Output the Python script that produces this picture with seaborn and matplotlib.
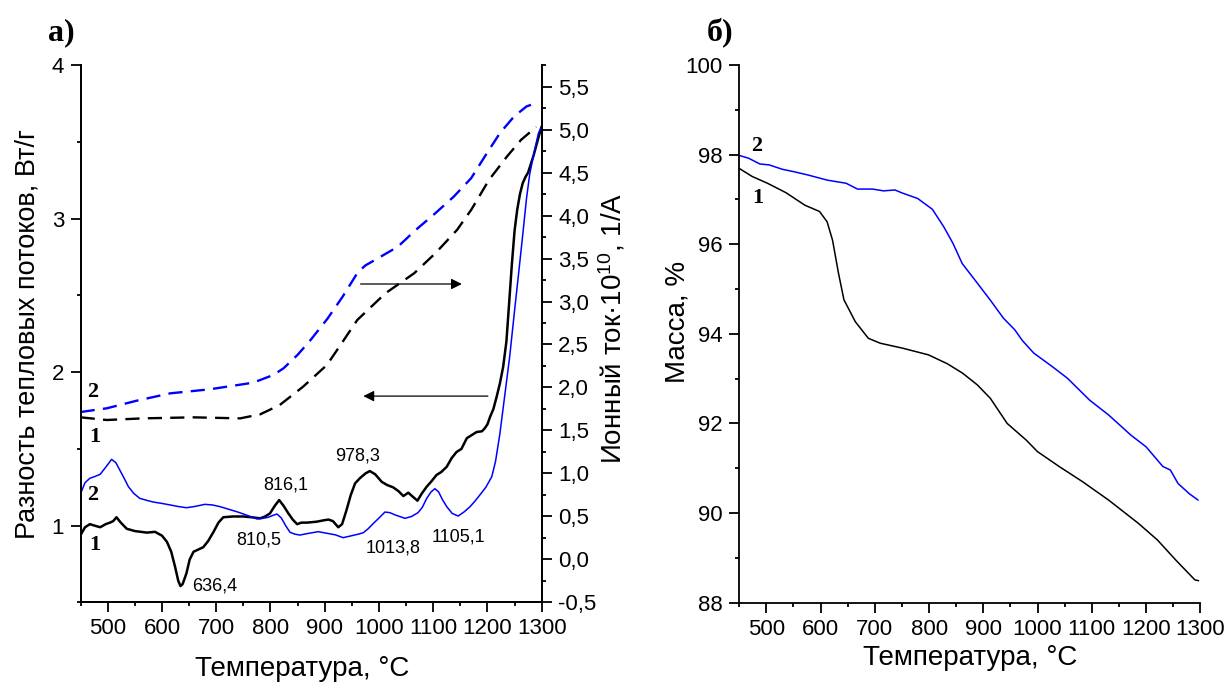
import numpy as np
import pandas as pd
import seaborn as sns
import matplotlib.pyplot as plt
from matplotlib.ticker import MultipleLocator, FuncFormatter

# а) DSC curves, W/g (left axis)
dsc_t1 = [450, 458, 467, 476, 486, 496, 504, 510, 516, 524, 535, 550, 572, 587, 600, 609, 617, 624,
          630, 634, 638, 645, 651, 658, 667, 676, 685, 695, 704, 713, 730, 750, 765, 781, 790, 799,
          808, 816, 824, 833, 841, 849, 857, 867, 885, 898, 907, 915, 925, 932, 940, 948, 956, 965,
          975, 983, 993, 1005, 1015, 1026, 1036, 1045, 1054, 1062, 1071, 1079, 1088, 1097, 1106,
          1115, 1125, 1134, 1143, 1152, 1162, 1171, 1180, 1190, 1195, 1200, 1205, 1211, 1217, 1223,
          1229, 1235, 1240, 1245, 1250, 1255, 1260, 1265, 1270, 1275, 1285, 1295, 1300]
dsc_1 = [0.94, 0.99, 1.01, 1.00, 0.99, 1.01, 1.02, 1.03, 1.055, 1.02, 0.98, 0.965, 0.955, 0.96, 0.935,
         0.895, 0.83, 0.733, 0.64, 0.607, 0.62, 0.69, 0.78, 0.83, 0.845, 0.86, 0.90, 0.96, 1.02, 1.055,
         1.06, 1.06, 1.055, 1.048, 1.06, 1.08, 1.13, 1.167, 1.13, 1.08, 1.04, 1.01, 1.02, 1.02, 1.026,
         1.035, 1.04, 1.03, 0.99, 1.01, 1.10, 1.20, 1.276, 1.31, 1.34, 1.356, 1.335, 1.286, 1.265,
         1.25, 1.225, 1.193, 1.215, 1.19, 1.163, 1.21, 1.254, 1.29, 1.33, 1.35, 1.384, 1.44, 1.48,
         1.50, 1.57, 1.59, 1.61, 1.615, 1.634, 1.66, 1.71, 1.76, 1.84, 1.927, 2.035, 2.2, 2.45, 2.7,
         2.92, 3.06, 3.16, 3.23, 3.27, 3.30, 3.41, 3.54, 3.6]

dsc_t2 = [450, 458, 467, 476, 486, 496, 507, 515, 522, 530, 538, 548, 559, 572, 584, 600, 615, 630,
          645, 660, 679, 693, 707, 722, 738, 755, 775, 786, 796, 805, 812, 820, 828, 836, 845, 854,
          870, 888, 905, 920, 934, 950, 962, 971, 980, 990, 1000, 1011, 1020, 1030, 1048, 1060, 1072,
          1080, 1088, 1096, 1103, 1110, 1117, 1125, 1135, 1146, 1157, 1168, 1177, 1186, 1197, 1208,
          1215, 1223, 1232, 1241, 1250, 1258, 1266, 1272, 1278, 1286, 1294, 1300]
dsc_2 = [1.211, 1.28, 1.309, 1.32, 1.335, 1.38, 1.432, 1.41, 1.363, 1.31, 1.254, 1.21, 1.178, 1.165,
         1.154, 1.145, 1.135, 1.125, 1.117, 1.125, 1.139, 1.135, 1.124, 1.108, 1.091, 1.07, 1.044,
         1.048, 1.055, 1.068, 1.076, 1.05, 1.0, 0.957, 0.945, 0.939, 0.95, 0.961, 0.95, 0.94, 0.922,
         0.935, 0.945, 0.954, 0.98, 1.016, 1.05, 1.089, 1.085, 1.07, 1.048, 1.06, 1.085, 1.12, 1.178,
         1.22, 1.241, 1.22, 1.17, 1.124, 1.08, 1.063, 1.09, 1.124, 1.16, 1.2, 1.25, 1.319, 1.42, 1.6,
         1.85, 2.1, 2.4, 2.66, 2.925, 3.13, 3.29, 3.43, 3.555, 3.6]

# а) ion current, 1e-10 A (right axis)
ion_t1 = [450, 498, 565, 658, 744, 781, 817, 860, 904, 927, 960, 1012, 1065, 1104, 1144, 1170, 1203,
          1236, 1262, 1290]
ion_1 = [1.653, 1.622, 1.641, 1.653, 1.641, 1.688, 1.796, 2.009, 2.262, 2.475, 2.785, 3.096, 3.329,
         3.561, 3.833, 4.065, 4.415, 4.686, 4.88, 5.03]

ion_t2 = [450, 498, 553, 615, 688, 768, 805, 824, 850, 874, 905, 933, 960, 975, 993, 1035, 1068, 1104,
          1138, 1170, 1197, 1223, 1249, 1272, 1290]
ion_2 = [1.715, 1.758, 1.846, 1.932, 1.979, 2.056, 2.145, 2.223, 2.38, 2.553, 2.80, 3.056, 3.33, 3.42,
         3.484, 3.638, 3.833, 4.027, 4.22, 4.434, 4.705, 4.958, 5.151, 5.268, 5.31]

# б) TG, mass %
tg_t1 = [450, 474, 502, 536, 571, 598, 612, 622, 633, 643, 664, 688, 710, 751, 799, 834, 862, 889, 913,
         944, 979, 1000, 1041, 1083, 1131, 1186, 1221, 1255, 1290, 1297]
tg_1 = [97.69, 97.51, 97.36, 97.15, 96.87, 96.73, 96.50, 96.09, 95.35, 94.76, 94.27, 93.90, 93.79,
        93.68, 93.53, 93.33, 93.12, 92.86, 92.56, 92.00, 91.63, 91.37, 91.03, 90.70, 90.29, 89.77,
        89.40, 88.95, 88.51, 88.49]

tg_t2 = [450, 467, 488, 505, 530, 550, 578, 612, 647, 668, 696, 716, 737, 751, 779, 806, 827, 844, 861,
         889, 913, 937, 958, 972, 993, 1027, 1055, 1096, 1131, 1172, 1200, 1231, 1245, 1259, 1280, 1296]
tg_2 = [97.98, 97.92, 97.79, 97.77, 97.67, 97.62, 97.54, 97.43, 97.36, 97.23, 97.23, 97.19, 97.21,
        97.14, 97.02, 96.78, 96.39, 96.02, 95.57, 95.13, 94.75, 94.35, 94.09, 93.85, 93.57, 93.27,
        93.01, 92.52, 92.19, 91.74, 91.48, 91.04, 90.96, 90.66, 90.43, 90.29]

# peak labels (text, T, y on the DSC axis)
peaks = [("636,4", 697, 0.607), ("816,1", 828, 1.265), ("810,5", 779, 0.907),
         ("978,3", 961, 1.454), ("1013,8", 1026, 0.855), ("1105,1", 1147, 0.926)]

sns.set_style("ticks", {"axes.edgecolor": "black", "xtick.color": "black", "ytick.color": "black",
                        "text.color": "black", "axes.labelcolor": "black"})
plt.rcParams["font.family"] = ["Liberation Sans", "DejaVu Sans"]
plt.rcParams["mathtext.default"] = "regular"
plt.rcParams["axes.linewidth"] = 1.3

BLUE = "#0000ff"
serif_bold = dict(family=["Liberation Serif", "DejaVu Serif"], fontweight="bold")
dash = (0, (6, 3.5))

fig = plt.figure(figsize=(12.28, 6.88), dpi=100)
ax = fig.add_axes([0.0657, 0.1243, 0.3754, 0.7812])
ax2 = ax.twinx()
ax3 = fig.add_axes([0.602, 0.124, 0.3754, 0.7816])

# left panel
sns.lineplot(x=dsc_t1, y=dsc_1, ax=ax, color="black", lw=1.8)
sns.lineplot(x=dsc_t2, y=dsc_2, ax=ax, color=BLUE, lw=1.1)
sns.lineplot(x=ion_t1, y=ion_1, ax=ax2, color="black", lw=1.7, linestyle=dash)
sns.lineplot(x=ion_t2, y=ion_2, ax=ax2, color=BLUE, lw=1.7, linestyle=dash)

ax.set_xlim(450, 1300)
ax.set_ylim(0.5, 4)
ax2.set_ylim(-0.5, 5.75)
ax.xaxis.set_major_locator(MultipleLocator(100))
ax.xaxis.set_minor_locator(MultipleLocator(50))
ax.yaxis.set_major_locator(MultipleLocator(1))
ax.yaxis.set_minor_locator(MultipleLocator(0.5))
ax2.yaxis.set_major_locator(MultipleLocator(0.5))
ax2.yaxis.set_minor_locator(MultipleLocator(0.25))
ax2.yaxis.set_major_formatter(FuncFormatter(lambda v, p: f"{v:.1f}".replace(".", ",")))
ax.spines["top"].set_visible(False)
ax2.spines["top"].set_visible(False)

for a in (ax, ax2, ax3):
    a.tick_params(which="major", length=7, width=1.3, labelsize=16, pad=5)
    a.tick_params(which="minor", length=3, width=1.3)
    a.tick_params(axis="x", pad=4.5)

ax.set_xlabel("Температура, °C", fontsize=20)
ax.set_ylabel("Разность тепловых потоков, Вт/г", fontsize=19.5)
ax2.set_ylabel("Ионный ток·10$^{10}$, 1/А", fontsize=20)
ax.xaxis.set_label_coords(0.48, -0.10)
ax.yaxis.set_label_coords(-0.088, 0.50)
ax2.yaxis.set_label_coords(1.12, 0.51)

for txt, t, y in peaks:
    ax.text(t, y, txt, fontsize=13, ha="center", va="center")

ax.text(473, 1.87, "2", fontsize=16, ha="center", va="center", **serif_bold)
ax.text(476, 1.577, "1", fontsize=16, ha="center", va="center", **serif_bold)
ax.text(473, 1.20, "2", fontsize=16, ha="center", va="center", **serif_bold)
ax.text(476, 0.874, "1", fontsize=16, ha="center", va="center", **serif_bold)

arrow = dict(arrowstyle="-|>", color="black", lw=0.9, mutation_scale=16)
ax.annotate("", xy=(1158, 2.574), xytext=(961, 2.574), arrowprops=arrow)
ax.annotate("", xy=(966, 1.844), xytext=(1206, 1.844), arrowprops=arrow)

# right panel
sns.lineplot(x=tg_t1, y=tg_1, ax=ax3, color="black", lw=1.1)
sns.lineplot(x=tg_t2, y=tg_2, ax=ax3, color=BLUE, lw=1.1)
ax3.set_xlim(450, 1300)
ax3.set_ylim(88, 100)
ax3.xaxis.set_major_locator(MultipleLocator(100))
ax3.xaxis.set_minor_locator(MultipleLocator(50))
ax3.yaxis.set_major_locator(MultipleLocator(2))
ax3.yaxis.set_minor_locator(MultipleLocator(1))
sns.despine(ax=ax3)
ax3.set_xlabel("Температура, °C", fontsize=20)
ax3.set_ylabel("Масса, %", fontsize=20)
ax3.xaxis.set_label_coords(0.50, -0.078)
ax3.yaxis.set_label_coords(-0.105, 0.523)
ax3.text(483, 98.2, "2", fontsize=16, ha="center", va="center", **serif_bold)
ax3.text(484, 97.02, "1", fontsize=16, ha="center", va="center", **serif_bold)

fig.text(61 / 1228, 1 - 33 / 688, "а)", fontsize=23, ha="center", va="center", **serif_bold)
fig.text(720 / 1228, 1 - 32 / 688, "б)", fontsize=23, ha="center", va="center", **serif_bold)

plt.savefig("out.png", dpi=100)
